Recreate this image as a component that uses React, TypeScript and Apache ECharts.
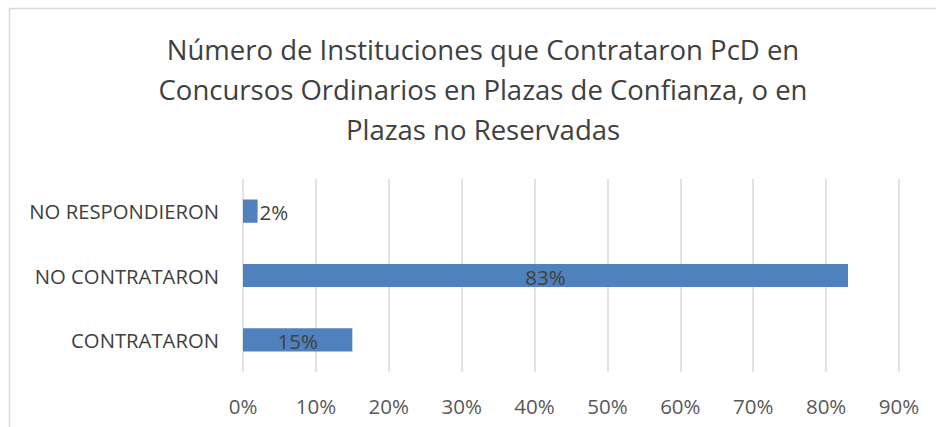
import React, { useEffect, useRef } from "react";
import * as echarts from "echarts";

const titleLines = [
  "Número de Instituciones que Contrataron PcD en",
  "Concursos Ordinarios en Plazas de Confianza, o en",
  "Plazas no Reservadas",
];
const categories = ["CONTRATARON", "NO CONTRATARON", "NO RESPONDIERON"];
const values = [15, 83, 2];
const labelPositions = ["inside", "inside", "right"];
const axisMax = 90;
const axisStep = 10;

const FONT = "Open Sans";

export default function App() {
  const ref = useRef<HTMLDivElement>(null);
  useEffect(() => {
    if (!ref.current) return;
    const chart = echarts.init(ref.current, null, { renderer: "svg" });
    chart.setOption({
      animation: false,
      backgroundColor: "#ffffff",
      textStyle: { fontFamily: FONT },
      title: {
        text: titleLines.join("\n"),
        left: 478,
        textAlign: "center",
        top: 24,
        textStyle: {
          fontFamily: FONT,
          fontSize: 27.5,
          fontWeight: "normal",
          color: "#404040",
          lineHeight: 40,
        },
      },
      graphic: [
        {
          type: "rect",
          shape: { x: 9.5, y: 8.5, width: 1000, height: 1000 },
          style: { fill: "none", stroke: "#d9d9d9", lineWidth: 1.5 },
          silent: true,
        },
      ],
      grid: { left: 243, right: 37, top: 179, bottom: 55, containLabel: false },
      xAxis: {
        type: "value",
        min: 0,
        max: axisMax,
        interval: axisStep,
        axisLine: { show: false },
        axisTick: { show: false },
        splitLine: { show: true, lineStyle: { color: "#d9d9d9", width: 1.5 } },
        axisLabel: {
          formatter: (v: number) => `${v}%`,
          color: "#595959",
          fontFamily: FONT,
          fontSize: 20.5,
          margin: 23,
        },
      },
      yAxis: {
        type: "category",
        data: categories,
        axisLine: { show: false },
        axisTick: { show: false },
        splitLine: { show: false },
        axisLabel: {
          color: "#404040",
          fontFamily: FONT,
          fontSize: 20.3,
          margin: 24,
        },
      },
      series: [
        {
          type: "bar",
          data: values.map((v, i) => ({
            value: v,
            label: { position: labelPositions[i] },
          })),
          barWidth: "36%",
          itemStyle: { color: "#4f81bd" },
          label: {
            show: true,
            formatter: (p: any) => `${p.value}%`,
            color: "#404040",
            fontFamily: FONT,
            fontSize: 20.5,
            distance: 2,
            offset: [0, 1],
          },
        },
      ],
    });
    return () => chart.dispose();
  }, []);
  return (
    <div
      ref={ref}
      style={{ position: "absolute", left: 0, top: 0, width: 936, height: 427 }}
    />
  );
}
